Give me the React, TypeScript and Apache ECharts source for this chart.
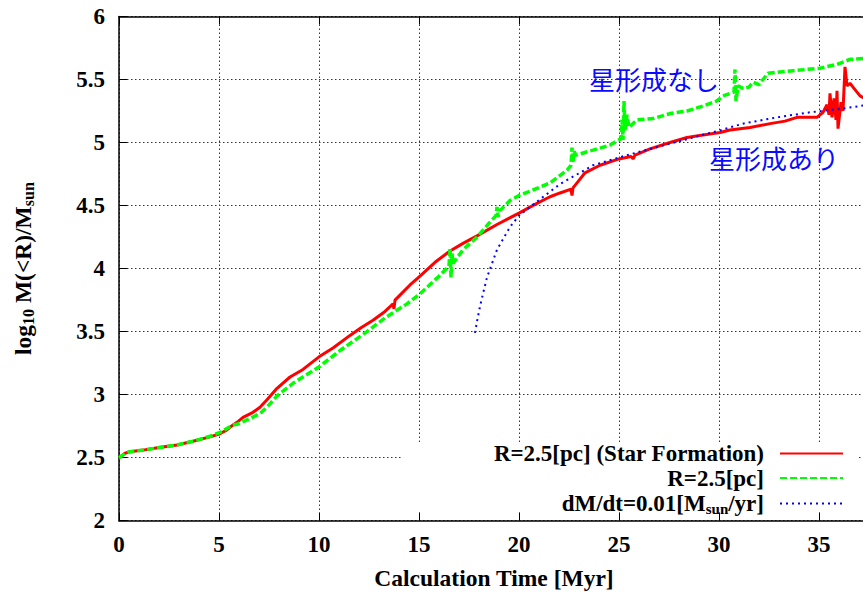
import React, { useEffect, useRef } from "react";
import * as echarts from "echarts";

// ---- data ----
const xTicks = [0, 5, 10, 15, 20, 25, 30, 35];
const yTicks = [2, 2.5, 3, 3.5, 4, 4.5, 5, 5.5, 6];

const seriesNames = [
  "R=2.5[pc] (Star Formation)",
  "R=2.5[pc]",
  "dM/dt=0.01[Msun/yr]",
];

const redTime = [
  0, 0.1, 0.3, 0.55, 1.2, 2.0, 2.9, 3.7, 4.55, 5.05, 5.4, 5.7, 5.9, 6.2, 6.7, 7.05, 7.4, 7.9, 8.55, 9.2,
  10.0, 10.7, 11.55, 12.1, 12.7, 13.3, 13.7, 13.75, 13.8, 14.05, 14.55, 15.05, 15.8, 16.55, 17.2, 17.9,
  18.9, 20.0, 20.8, 21.55, 22.05, 22.6, 22.65, 22.7, 23.0, 23.3, 24.05, 25.0, 25.6, 25.7, 25.8, 26.55,
  27.55, 28.4, 29.2, 30.05, 30.55, 31.55, 32.55, 33.3, 33.9, 34.9, 35.2, 35.4, 35.5, 35.55, 35.65, 35.75,
  35.85, 35.9, 35.95, 36.1, 36.2, 36.3, 36.4, 36.55, 36.7, 37.05, 37.5,
];
const redMass = [
  2.5, 2.51, 2.535, 2.547, 2.56, 2.58, 2.6, 2.63, 2.665, 2.69, 2.72, 2.76, 2.78, 2.82, 2.86, 2.9, 2.96, 3.05, 3.14, 3.2,
  3.3, 3.37, 3.47, 3.53, 3.59, 3.66, 3.72, 3.68, 3.75, 3.79, 3.87, 3.94, 4.05, 4.14, 4.2, 4.26,
  4.35, 4.44, 4.51, 4.57, 4.6, 4.63, 4.58, 4.64, 4.7, 4.76, 4.82, 4.87, 4.89, 4.87, 4.9, 4.95,
  5.0, 5.04, 5.06, 5.08, 5.1, 5.12, 5.15, 5.17, 5.2, 5.2, 5.24, 5.3, 5.22, 5.39, 5.2, 5.35,
  5.18, 5.41, 5.11, 5.32, 5.25, 5.6, 5.45, 5.47, 5.44, 5.37, 5.33,
];

const greenTime = [
  0, 0.1, 0.3, 0.55, 1.2, 2.0, 2.9, 3.7, 4.55, 5.05, 5.7, 5.9, 6.55, 7.05, 7.4, 7.9, 8.7, 10.0, 11.05, 12.4,
  13.4, 14.4, 15.05, 16.0, 16.5, 16.55, 16.6, 16.65, 16.7, 17.2, 17.9, 18.5, 18.85, 18.9, 18.95, 19.05,
  19.55, 20.0, 20.8, 21.55, 22.4, 22.6, 22.65, 22.7, 22.75, 22.85, 23.05, 23.7, 24.55, 25.1, 25.15, 25.2,
  25.25, 25.3, 25.4, 25.5, 25.9, 26.7, 27.55, 28.4, 29.2, 29.9, 30.2, 30.75, 30.8, 30.85, 30.95, 31.2,
  31.5, 31.7, 32.0, 32.45, 33.7, 35.05, 35.9, 36.55, 37.5,
];
const greenMass = [
  2.5, 2.51, 2.535, 2.547, 2.56, 2.58, 2.6, 2.63, 2.67, 2.7, 2.76, 2.765, 2.81, 2.85, 2.9, 2.99, 3.09, 3.22, 3.35, 3.5,
  3.62, 3.72, 3.8, 3.94, 4.02, 4.16, 3.93, 4.12, 4.04, 4.15, 4.25, 4.36, 4.42, 4.49, 4.41, 4.46,
  4.54, 4.58, 4.63, 4.68, 4.78, 4.82, 4.96, 4.84, 4.93, 4.9, 4.91, 4.94, 4.98, 5.03, 5.18, 5.02,
  5.33, 5.1, 5.22, 5.12, 5.18, 5.19, 5.23, 5.25, 5.29, 5.33, 5.37, 5.4, 5.58, 5.33, 5.45, 5.43,
  5.44, 5.48, 5.46, 5.55, 5.57, 5.59, 5.62, 5.66, 5.67,
];

const blueTime = [
  17.8, 17.9, 18.05, 18.2, 18.4, 18.9, 19.55, 20.0, 21.05, 22.05, 23.7, 25.4, 27.05, 28.7, 29.9, 31.2,
  32.9, 34.55, 36.2, 37.5,
];
const blueMass = [
  3.49, 3.58, 3.7, 3.8, 3.93, 4.15, 4.33, 4.42, 4.55, 4.67, 4.82, 4.9, 4.97, 5.04, 5.09, 5.15,
  5.2, 5.24, 5.27, 5.3,
];

const annotations = [
  { text: "星形成なし", x: 589, y: 78 },
  { text: "星形成あり", x: 709, y: 157 },
];

const zip = (xs: number[], ys: number[]) => xs.map((x, i) => [x, ys[i]]);

const SERIF = "'Liberation Serif', 'Times New Roman', serif";
const CJK = "'Noto Sans CJK JP', sans-serif";

export default function App() {
  const ref = useRef<HTMLDivElement>(null);

  useEffect(() => {
    if (!ref.current) return;
    const chart = echarts.init(ref.current, undefined, { renderer: "svg" });

    const labelStyle = {
      fontFamily: SERIF,
      fontWeight: "bold" as const,
      fontSize: 23,
      color: "#000",
    };
    const nameStyle = { ...labelStyle, fontSize: 23.5 };
    const subRich = (size: number, mainSize: number) => ({
      m: {
        fontFamily: SERIF,
        fontWeight: "bold" as const,
        fontSize: mainSize,
        lineHeight: 22,
        color: "#000",
      },
      sub: {
        fontFamily: SERIF,
        fontWeight: "bold" as const,
        fontSize: size,
        lineHeight: 10,
        padding: [10, 0, 0, 0],
        color: "#000",
      },
    });

    chart.setOption({
      animation: false,
      backgroundColor: "#fff",
      grid: {
        left: 119,
        top: 16.5,
        right: 11,
        bottom: 72.3,
        containLabel: false,
        outerBoundsMode: "none",
      },
      legend: {
        data: seriesNames,
        orient: "vertical",
        align: "right",
        right: 36,
        top: 442,
        padding: 0,
        itemWidth: 63,
        itemHeight: 14,
        itemGap: 1.5,
        selectedMode: false,
        itemStyle: { opacity: 0, borderWidth: 0 },
        formatter: (name: string) =>
          name === seriesNames[2] ? "{m|dM/dt=0.01[M}{sub|sun}{m|/yr]}" : name,
        textStyle: {
          ...labelStyle,
          fontSize: 23,
          lineHeight: 22,
          padding: [0, 11, 0, 0],
          rich: subRich(15, 23),
        },
      },
      xAxis: [
        {
          type: "value",
          position: "bottom",
          min: 0,
          max: 37.5,
          interval: 5,
          name: "Calculation Time [Myr]",
          nameLocation: "middle",
          nameGap: 45,
          nameTextStyle: nameStyle,
          axisLine: { show: true, onZero: false, lineStyle: { color: "#000", width: 1.5 } },
          axisTick: { show: true, inside: true, length: 8, lineStyle: { color: "#000", width: 1 } },
          axisLabel: {
            ...labelStyle,
            margin: 12,
            showMaxLabel: false,
            formatter: (v: number) => (xTicks.includes(v) ? String(v) : ""),
          },
          splitLine: {
            show: true,
            lineStyle: { color: "#333", width: 1, type: [1.5, 2.5] },
          },
        },
        {
          type: "value",
          position: "top",
          min: 0,
          max: 37.5,
          interval: 5,
          axisLine: { show: true, onZero: false, lineStyle: { color: "#000", width: 1.5 } },
          axisTick: { show: true, inside: true, length: 8, lineStyle: { color: "#000", width: 1 } },
          axisLabel: { show: false },
          splitLine: { show: false },
        },
      ],
      yAxis: {
        type: "value",
        min: yTicks[0],
        max: yTicks[yTicks.length - 1],
        interval: 0.5,
        name: "log{sub|10} M(<R)/M{sub|sun}",
        nameLocation: "middle",
        nameRotate: 90,
        nameGap: 84,
        nameTextStyle: { ...nameStyle, rich: subRich(16, 23.5) },
        axisLine: { show: true, onZero: false, lineStyle: { color: "#000", width: 1.5 } },
        axisTick: { show: true, inside: true, length: 8, lineStyle: { color: "#000", width: 1 } },
        axisLabel: { ...labelStyle, margin: 14 },
        splitLine: {
          show: true,
          lineStyle: { color: "#333", width: 1, type: [1.5, 2.5] },
        },
      },
      graphic: [
        {
          type: "rect",
          z: 1,
          shape: { x: 403, y: 443, width: 454, height: 69 },
          style: { fill: "#fff" },
          silent: true,
        },
        ...annotations.map((a) => ({
          type: "text",
          z: 5,
          x: a.x,
          y: a.y,
          style: {
            text: a.text,
            font: `26px ${CJK}`,
            fill: "#0a0aff",
            verticalAlign: "middle",
            align: "left",
          },
          silent: true,
        })),
      ],
      series: [
        {
          name: seriesNames[0],
          type: "line",
          data: zip(redTime, redMass),
          showSymbol: false,
          symbol: "none",
          lineStyle: { color: "#ff0000", width: 3 },
          itemStyle: { color: "#ff0000" },
        },
        {
          name: seriesNames[1],
          type: "line",
          data: zip(greenTime, greenMass),
          showSymbol: false,
          symbol: "none",
          lineStyle: { color: "#00ff00", width: 3.5, type: [7, 3] },
          itemStyle: { color: "#00ff00" },
        },
        {
          name: seriesNames[2],
          type: "line",
          data: zip(blueTime, blueMass),
          showSymbol: false,
          symbol: "none",
          lineStyle: { color: "#0000ff", width: 2, type: [2, 4] },
          itemStyle: { color: "#0000ff" },
        },
      ],
    });

    return () => chart.dispose();
  }, []);

  return (
    <div
      style={{
        position: "fixed",
        left: 0,
        top: 0,
        width: 863,
        height: 593,
        overflow: "hidden",
        background: "#fff",
      }}
    >
      <div ref={ref} style={{ width: 880, height: 593 }} />
    </div>
  );
}
